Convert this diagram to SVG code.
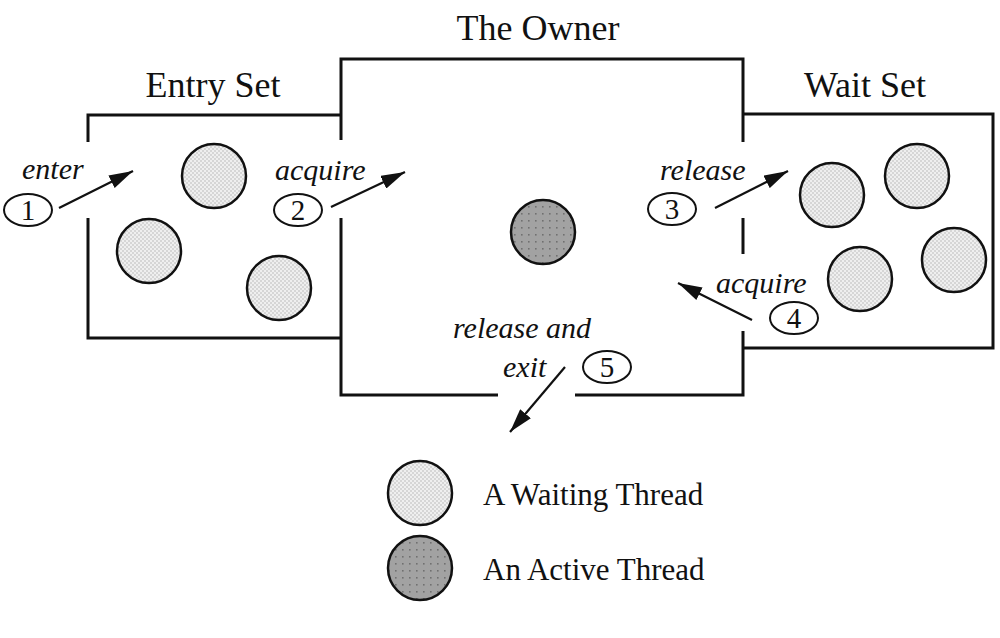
<svg xmlns="http://www.w3.org/2000/svg" width="1000" height="638" viewBox="0 0 1000 638">
<style>
.box{fill:none;stroke:#111;stroke-width:3;stroke-linecap:butt}
.title{font-family:"Liberation Serif",serif;font-size:36px;fill:#111;text-anchor:middle}
.lbl{font-family:"Liberation Serif",serif;font-size:30px;font-style:italic;fill:#111}
.num{font-family:"Liberation Serif",serif;font-size:29px;fill:#111;text-anchor:middle}
.leg{font-family:"Liberation Serif",serif;font-size:31px;fill:#111}
.oval{fill:#fff;stroke:#111;stroke-width:2}
.wait{fill:url(#chk);stroke:#111;stroke-width:2.5}
.act{fill:url(#dots);stroke:#111;stroke-width:2.5}
.arr{fill:none;stroke:#111;stroke-width:2.2;marker-end:url(#ah)}
</style>
<defs>
<pattern id="chk" width="4" height="4" patternUnits="userSpaceOnUse">
<rect width="4" height="4" fill="#efefef"/>
<rect width="2" height="2" fill="#d6d6d6"/>
<rect x="2" y="2" width="2" height="2" fill="#d6d6d6"/>
</pattern>
<pattern id="dots" width="7" height="7" patternUnits="userSpaceOnUse">
<rect width="7" height="7" fill="#a2a2a2"/>
<rect x="3" y="3" width="1.6" height="1.6" fill="#707070"/>
</pattern>
<marker id="ah" viewBox="0 0 24 14" refX="24" refY="7" markerWidth="24" markerHeight="14" markerUnits="userSpaceOnUse" orient="auto">
<path d="M0,0 L24,7 L0,14 Z" fill="#111"/>
</marker>
</defs>
<rect width="1000" height="638" fill="#fff"/>

<g id="entry-set">
<path class="box" d="M88,142 V115 H341 M88,218 V338 H341"/>
<text class="title" x="213" y="97">Entry Set</text>
<circle class="wait" cx="214" cy="176" r="32"/>
<circle class="wait" cx="149" cy="251" r="32"/>
<circle class="wait" cx="279" cy="288" r="32"/>
</g>

<g id="owner">
<path class="box" d="M341,140 V59 H743 V142 M341,218 V395 H498 M575,395 H743 V331 M743,218 V254"/>
<text class="title" x="538" y="40">The Owner</text>
<circle class="act" cx="543" cy="232" r="32"/>
</g>

<g id="wait-set">
<path class="box" d="M743,114 H993 V348 H743"/>
<text class="title" x="865" y="97">Wait Set</text>
<circle class="wait" cx="832" cy="195" r="32"/>
<circle class="wait" cx="917" cy="176" r="32"/>
<circle class="wait" cx="860" cy="279" r="32"/>
<circle class="wait" cx="954" cy="260" r="32"/>
</g>

<g id="connectors">
<path class="arr" d="M59,208 L133,171"/>
<path class="arr" d="M331,207 L405,172"/>
<path class="arr" d="M715,208 L788,171"/>
<path class="arr" d="M752,320 L678,283"/>
<path class="arr" d="M565,367 L510,432"/>
</g>

<g id="step1">
<text class="lbl" x="22" y="179">enter</text>
<ellipse class="oval" cx="28" cy="210" rx="24" ry="16"/>
<text class="num" x="28" y="220">1</text>
</g>
<g id="step2">
<text class="lbl" x="275" y="180">acquire</text>
<ellipse class="oval" cx="298" cy="210" rx="24" ry="16"/>
<text class="num" x="298" y="220">2</text>
</g>
<g id="step3">
<text class="lbl" x="660" y="180">release</text>
<ellipse class="oval" cx="672" cy="209" rx="24" ry="16"/>
<text class="num" x="672" y="219">3</text>
</g>
<g id="step4">
<text class="lbl" x="716" y="293">acquire</text>
<ellipse class="oval" cx="794" cy="318" rx="24" ry="16"/>
<text class="num" x="794" y="328">4</text>
</g>
<g id="step5">
<text class="lbl" x="453" y="338">release and</text>
<text class="lbl" x="503" y="377">exit</text>
<ellipse class="oval" cx="607" cy="367" rx="24" ry="16"/>
<text class="num" x="607" y="377">5</text>
</g>

<g id="legend-waiting">
<circle class="wait" cx="420" cy="493" r="32"/>
<text class="leg" x="483" y="505">A Waiting Thread</text>
</g>
<g id="legend-active">
<circle class="act" cx="420" cy="568" r="32"/>
<text class="leg" x="483" y="580">An Active Thread</text>
</g>
</svg>
